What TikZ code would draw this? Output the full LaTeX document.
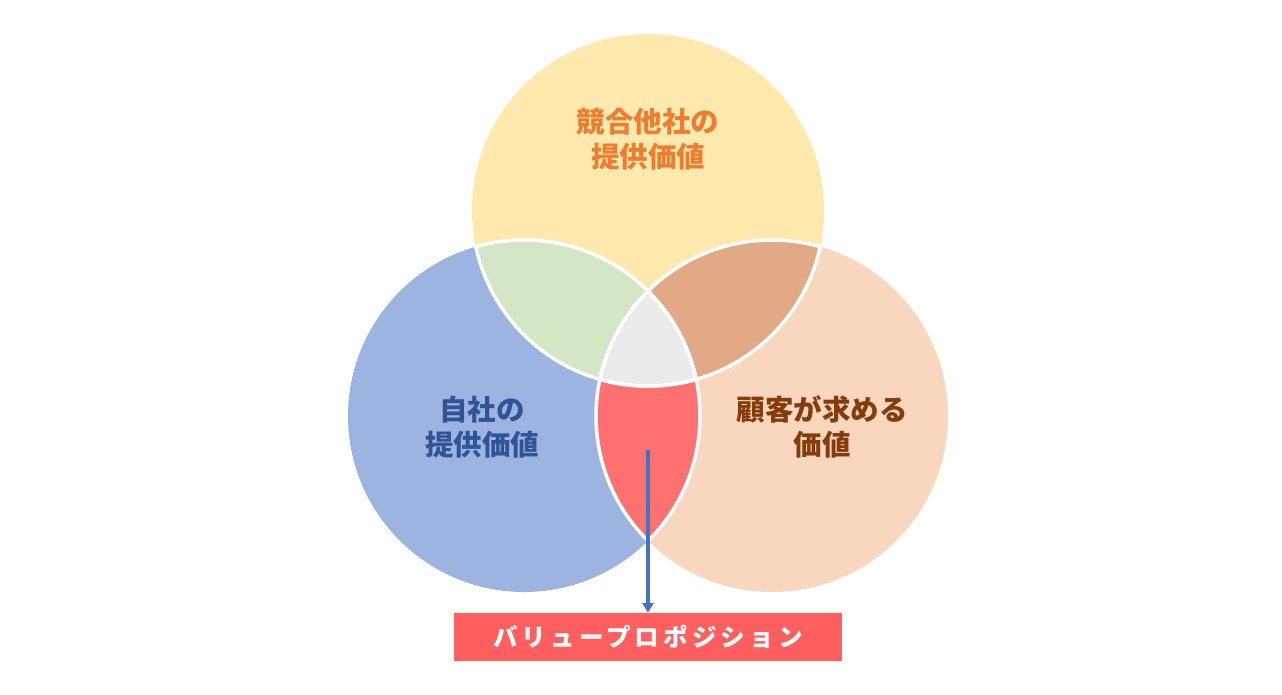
\documentclass[tikz,border=0pt]{standalone}
\usepackage{fontspec}
\newfontfamily\jp{Noto Sans CJK JP}
\newfontfamily\jpsp{Noto Sans CJK JP}[LetterSpace=17]
\usetikzlibrary{arrows.meta}
\definecolor{cyellow}{HTML}{FFE9AF}
\definecolor{cblue}{HTML}{9EB4E0}
\definecolor{cpeach}{HTML}{F8D7BE}
\definecolor{cgreen}{HTML}{D4E6C5}
\definecolor{cbrown}{HTML}{E1A985}
\definecolor{cgray}{HTML}{EBEBEB}
\definecolor{cred}{HTML}{FF7170}
\definecolor{cbox}{HTML}{FF5F5F}
\definecolor{carrow}{HTML}{4472C4}
\definecolor{torange}{HTML}{ED7D31}
\definecolor{tblue}{HTML}{2F5597}
\definecolor{tbrown}{HTML}{843C0C}
\tikzset{
  lbl/.style={font=\jp\bfseries\fontsize{28.5}{35}\selectfont, align=center, inner sep=0pt},
  sep/.style={draw=white, line width=3.5pt},
}
\begin{document}
\begin{tikzpicture}[x=1pt,y=-1pt]
\useasboundingbox (0,0) rectangle (1282,694);
\def\R{176}
\coordinate (T) at (648,210);
\coordinate (L) at (524,416);
\coordinate (Rc) at (772,416);
% base circles
\fill[cyellow] (T) circle (\R);
\fill[cblue] (L) circle (\R);
\fill[cpeach] (Rc) circle (\R);
% pairwise overlaps
\begin{scope}\clip (T) circle (\R); \fill[cgreen] (L) circle (\R); \end{scope}
\begin{scope}\clip (T) circle (\R); \fill[cbrown] (Rc) circle (\R); \end{scope}
\begin{scope}\clip (L) circle (\R); \fill[cred] (Rc) circle (\R); \end{scope}
\begin{scope}\clip (T) circle (\R); \clip (L) circle (\R); \fill[cgray] (Rc) circle (\R); \end{scope}
% white separating arcs
\begin{scope}\clip (T) circle (\R); \draw[sep] (L) circle (\R); \draw[sep] (Rc) circle (\R); \end{scope}
\begin{scope}\clip (L) circle (\R); \draw[sep] (T) circle (\R); \draw[sep] (Rc) circle (\R); \end{scope}
\begin{scope}\clip (Rc) circle (\R); \draw[sep] (T) circle (\R); \draw[sep] (L) circle (\R); \end{scope}
% labels
\node[lbl, text=torange] (tlabel) at (648,139) {競合他社の\\提供価値};
\node[lbl, text=tblue] (llabel) at (482,427) {自社の\\提供価値};
\node[lbl, text=tbrown] (rlabel) at (822,427) {顧客が求める\\価値};
% value proposition box
\node[fill=cbox, minimum width=388pt, minimum height=48pt, inner sep=0pt,
      text=white, font=\jpsp\bfseries\fontsize{24.5}{28}\selectfont] (vp) at (648,637) {バリュープロポジション};
\coordinate (astart) at (648,450);
\draw[carrow, line width=3.5pt, -{Triangle[length=10pt,width=11pt]}] (astart) -- (vp.north);
\end{tikzpicture}
\end{document}
